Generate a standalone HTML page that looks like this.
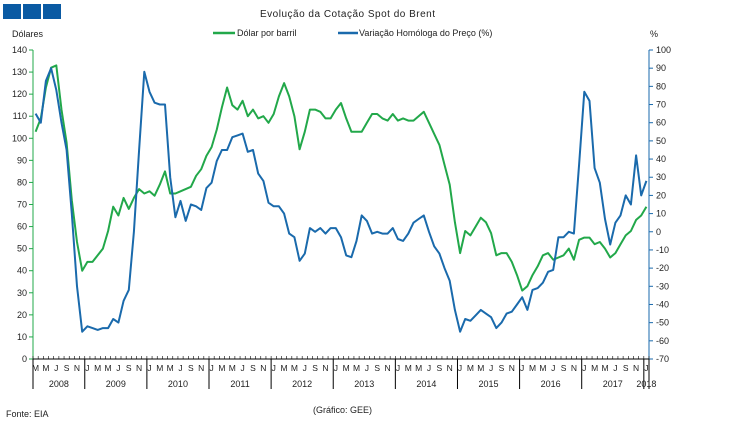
<!DOCTYPE html>
<html><head><meta charset="utf-8"><style>
body{margin:0;background:#fff;width:750px;height:425px;overflow:hidden;font-family:"Liberation Sans",Arial,sans-serif}
svg text{font-family:"Liberation Sans",Arial,sans-serif;fill:#222}
</style></head><body>
<svg id="s" width="750" height="425" xmlns="http://www.w3.org/2000/svg">
<rect x="3" y="4" width="18" height="15" fill="#0a5aa3"/>
<rect x="23" y="4" width="18" height="15" fill="#0a5aa3"/>
<rect x="43" y="4" width="18" height="15" fill="#0a5aa3"/>
<text x="260" y="17" font-size="10" letter-spacing="0.5">Evolução da Cotação Spot do Brent</text>
<text x="12" y="37" font-size="9">Dólares</text>
<text x="650" y="37" font-size="9">%</text>
<line x1="213" y1="33" x2="235" y2="33" stroke="#22a84a" stroke-width="2.5"/>
<text x="237" y="36" font-size="9">Dólar por barril</text>
<line x1="338" y1="33" x2="358" y2="33" stroke="#1a6aac" stroke-width="2.5"/>
<text x="359" y="36" font-size="9">Variação Homóloga do Preço (%)</text>
<line x1="33" y1="50" x2="33" y2="359" stroke="#22a84a" stroke-width="1"/>
<line x1="649" y1="50" x2="649" y2="359" stroke="#1a6aac" stroke-width="1"/>
<line x1="33" y1="359" x2="649" y2="359" stroke="#000" stroke-width="1"/>
<g id="g"></g>
<text x="6" y="417" font-size="9">Fonte: EIA</text>
<text x="313" y="413" font-size="9">(Gráfico: GEE)</text>
</svg>
<script>
var g=document.getElementById('g'),ns='http://www.w3.org/2000/svg';
function el(t,a,txt){var e=document.createElementNS(ns,t);for(var k in a)e.setAttribute(k,a[k]);if(txt!==undefined)e.textContent=txt;g.appendChild(e);return e;}
for(var v=0;v<=140;v+=10){var y=359-v*309/140;el('line',{x1:29,y1:y,x2:33,y2:y,stroke:'#22a84a'});el('text',{x:27,y:y+3,'font-size':9,'text-anchor':'end'},v);}
for(var v=-70;v<=100;v+=10){var y=359-(v+70)*309/170;el('line',{x1:649,y1:y,x2:653,y2:y,stroke:'#1a6aac'});el('text',{x:656,y:y+3,'font-size':9},v);}
var N=119,w=616/N;
var lab={0:'M',2:'M',4:'J',6:'S',8:'N',10:'J'};
for(var i=0;i<=N;i++){var x=33+i*w;el('line',{x1:x,y1:356,x2:x,y2:359,stroke:'#000','stroke-width':0.6});}
for(var i=0;i<N;i++){var m=(i+2)%12;var L=['J','F','M','A','M','J','J','A','S','O','N','D'][m];if(m%2==0){el('text',{x:33+(i+0.5)*w,y:371,'font-size':8.5,'text-anchor':'middle'},L);}}
var yrs=[[2008,0,10]];for(var yy=2009;yy<=2017;yy++)yrs.push([yy,10+(yy-2009)*12,12]);yrs.push([2018,118,1]);
el('line',{x1:33,y1:359,x2:33,y2:389,stroke:'#000'});
yrs.forEach(function(a){var x0=33+a[1]*w,x1=33+(a[1]+a[2])*w;el('line',{x1:x1,y1:359,x2:x1,y2:389,stroke:'#000'});el('text',{x:(x0+x1)/2,y:387,'font-size':9,'text-anchor':'middle'},a[0]);});
var gr=[103,109,123,132,133,113,98,72,53,40,
44,44,47,50,58,69,65,73,68,73,77,75,
76,74,79,85,75,75,76,77,78,83,86,92,
96,104,114,123,115,113,117,110,113,109,110,107,
111,119,125,119,110,95,103,113,113,112,109,109,
113,116,109,103,103,103,107,111,111,109,108,111,
108,109,108,108,110,112,107,102,97,88,79,62,
48,58,56,60,64,62,57,47,48,48,44,38,
31,33,38,42,47,48,45,46,47,50,45,54,
55,55,52,53,50,46,48,52,56,58,63,65,69];
var bl=[65,60,83,90,78,60,45,10,-30,-55,
-52,-53,-54,-53,-53,-48,-50,-38,-32,0,45,88,
77,71,70,70,30,8,17,6,15,14,12,24,
27,39,45,45,52,53,54,44,45,32,28,16,
14,14,10,-1,-3,-16,-12,2,0,2,-1,2,
2,-3,-13,-14,-5,9,6,-1,0,-1,-1,2,
-4,-5,-1,5,7,9,0,-8,-12,-20,-27,-43,
-55,-48,-49,-46,-43,-45,-47,-53,-50,-45,-44,-40,
-36,-43,-32,-31,-28,-22,-21,-3,-3,0,-1,37,
77,72,35,27,7,-7,5,9,20,15,42,20,28];
function pts(d,f){return d.map(function(v,i){return (33+(i+0.5)*w).toFixed(1)+','+f(v).toFixed(1);}).join(' ');}
el('polyline',{points:pts(gr,function(v){return 359-v*309/140;}),fill:'none',stroke:'#22a84a','stroke-width':2,'stroke-linejoin':'round'});
el('polyline',{points:pts(bl,function(v){return 359-(v+70)*309/170;}),fill:'none',stroke:'#1a6aac','stroke-width':2,'stroke-linejoin':'round'});
</script>
</body></html>
